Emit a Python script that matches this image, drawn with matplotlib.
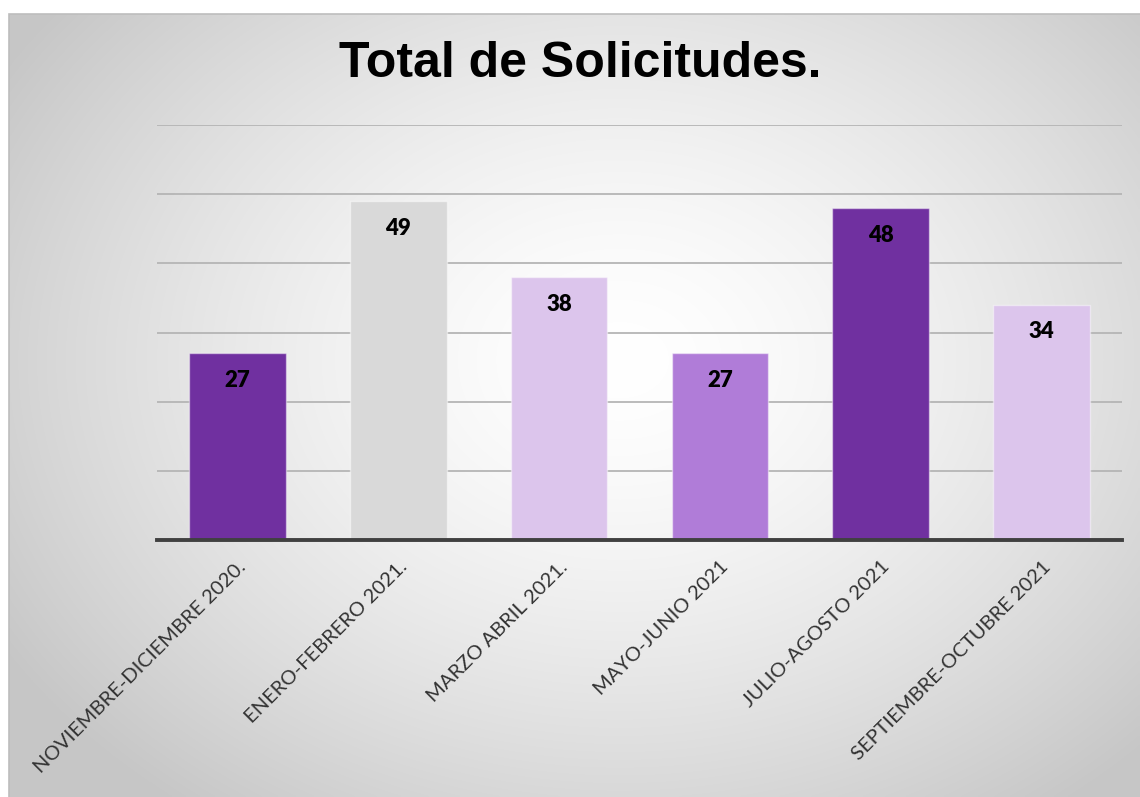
import numpy as np
import matplotlib.pyplot as plt
from matplotlib.patches import Rectangle

categorias = ["NOVIEMBRE-DICIEMBRE 2020.", "ENERO-FEBRERO 2021.", "MARZO ABRIL 2021.",
              "MAYO-JUNIO 2021", "JULIO-AGOSTO 2021", "SEPTIEMBRE-OCTUBRE 2021"]
solicitudes = [27, 49, 38, 27, 48, 34]
colores = ["#7030A0", "#D9D9D9", "#DCC5EC", "#B07CD8", "#7030A0", "#DCC5EC"]

W, H = 1140, 797
fig = plt.figure(figsize=(W / 100, H / 100), dpi=100)
fig.patch.set_facecolor("white")

# fondo con degradado radial (area del grafico)
x0, y0 = 9, 14
bg = fig.add_axes([x0 / W, 0, 1 - x0 / W, 1 - y0 / H], zorder=0)
gx, gy = np.meshgrid(np.linspace(x0, W, 400), np.linspace(y0, H, 300))
r = np.sqrt(((gx - 620) / 720) ** 2 + ((gy - 360) / 560) ** 2)
r = np.clip(r, 0, 1)
g = 1.0 - 0.22 * r ** 1.5
bg.imshow(np.dstack([g, g, g]), aspect="auto", extent=[0, 1, 0, 1], interpolation="bilinear")
bg.set_axis_off()
fig.add_artist(Rectangle((x0 / W, -0.01), 1.0, 1 - y0 / H + 0.01, transform=fig.transFigure,
                         fill=False, edgecolor="#BDBDBD", lw=1.2, zorder=1))

ax = fig.add_axes([157 / W, (H - 540) / H, 965 / W, 415 / H], zorder=2)
ax.patch.set_alpha(0)
x = np.arange(len(categorias))
bars = ax.bar(x, solicitudes, width=0.6, color=colores, edgecolor=(1, 1, 1, 0.45), linewidth=1.0, zorder=3)

ax.set_xlim(-0.5, len(categorias) - 0.5)
ax.set_ylim(0, 60)
ax.set_yticks(np.arange(10, 61, 10))
ax.yaxis.grid(True, color="#B5B5B5", lw=1.3, zorder=1)
ax.set_axisbelow(True)
ax.tick_params(axis="y", length=0, labelleft=False)
ax.tick_params(axis="x", length=0, pad=13)
for s in ["top", "right", "left"]:
    ax.spines[s].set_visible(False)
ax.spines["bottom"].set_color("#404040")
ax.spines["bottom"].set_linewidth(2.8)
ax.spines["bottom"].set_zorder(4)

ax.set_xticks(x)
ax.set_xticklabels(categorias, rotation=45, ha="right", rotation_mode="anchor",
                   fontsize=14.5, family="Lato", color="#333333")

for b, v in zip(bars, solicitudes):
    ax.annotate(str(v), (b.get_x() + b.get_width() / 2, v), xytext=(0, -19.5),
                textcoords="offset points", ha="center", va="center",
                fontsize=16, fontweight="heavy", family="Lato", color="black", zorder=5)

fig.text(580 / W, 1 - 64 / H, "Total de Solicitudes.", ha="center", va="center",
         fontsize=36, fontweight="bold", family="Liberation Sans", color="black", zorder=5)

fig.savefig("out.png", dpi=100)
